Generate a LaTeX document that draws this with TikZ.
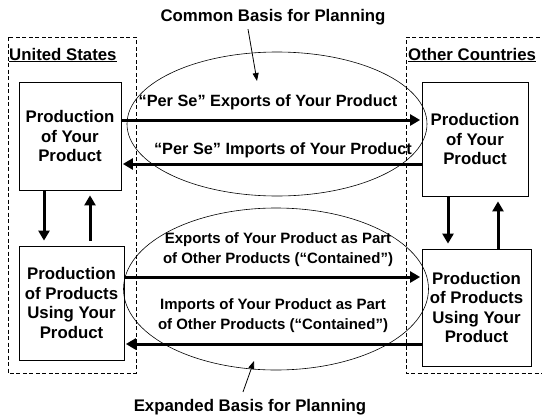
\documentclass[tikz,border=0pt]{standalone}
\usepackage{fontspec}
\setmainfont{Liberation Sans}
\usetikzlibrary{arrows.meta,calc,shapes.geometric}
\begin{document}
\begin{tikzpicture}[x=1pt,y=-1pt,
  box/.style={draw, line width=0.8pt, inner sep=0pt, align=center,
    font=\fontsize{16.8}{19.5}\bfseries\selectfont},
  flow/.style={line width=3pt, -{Triangle[length=10pt,width=11pt]}},
  pointer/.style={line width=0.8pt, -{Triangle[length=8pt,width=6pt]}},
  region/.style={draw, line width=0.6pt, dash pattern=on 4pt off 2.5pt},
  oval/.style={draw, ellipse, line width=0.6pt, inner sep=0pt},
  header/.style={font=\fontsize{16.8}{19}\bfseries\selectfont, inner sep=0pt},
  perse/.style={font=\fontsize{16.3}{19}\bfseries\selectfont, inner sep=0pt},
  contained/.style={font=\fontsize{15}{20}\bfseries\selectfont, inner sep=0pt, align=center}
]
\useasboundingbox (0,0) rectangle (542,418);

% regions
\draw[region] (8,37) rectangle (136,373);
\draw[region] (546,37) -- (406,37) -- (406,373) -- (546,373);

% ellipses
\node[oval, minimum width=300pt, minimum height=144pt] (common) at (277,124) {};
\node[oval, minimum width=305pt, minimum height=162pt] (expanded) at (276,289) {};

% headers
\node[header, anchor=west] (us) at (9,55) {\underline{United States}};
\node[header, anchor=west] (oc) at (408,55) {\underline{Other Countries}};
\node[header] (commonlbl) at (273,17) {Common Basis for Planning};
\node[header] (expandedlbl) at (250,407) {Expanded Basis for Planning};

% boxes
\node[box, minimum width=102pt, minimum height=108pt] (usprod) at (70,136)
  {Production\\of Your\\Product};
\node[box, minimum width=105pt, minimum height=114pt] (ususe) at (71.5,303)
  {Production\\of Products\\Using Your\\Product};
\node[box, minimum width=106pt, minimum height=114pt] (ocprod) at (475,139)
  {Production\\of Your\\Product};
\node[box, minimum width=109pt, minimum height=117pt] (ocuse) at (476.5,307.5)
  {Production\\of Products\\Using Your\\Product};

% horizontal flows
\draw[flow, shorten >=1.5pt] (usprod.east |- 0,120) -- (ocprod.west |- 0,120);
\draw[flow, shorten >=1.5pt] (ocprod.west |- 0,164) -- (usprod.east |- 0,164);
\draw[flow, shorten >=1.5pt] (ususe.east |- 0,277) -- (ocuse.west |- 0,277);
\draw[flow, shorten >=1.5pt] (ocuse.west |- 0,344) -- (ususe.east |- 0,344);

% flow labels
\node[perse] (l1) at (268,102) {“Per Se” Exports of Your Product};
\node[perse] (l2) at (283,150) {“Per Se” Imports of Your Product};
\node[contained] (l3) at (278,250) {Exports of Your Product as Part\\of Other Products (“Contained”)};
\node[contained] (l4) at (273,316) {Imports of Your Product as Part\\of Other Products (“Contained”)};

% vertical flows
\draw[flow, shorten >=5pt] (usprod.south -| 44,0) -- (ususe.north -| 44,0);
\draw[flow, shorten >=5pt, shorten <=5pt] (ususe.north -| 90,0) -- (usprod.south -| 90,0);
\draw[flow, shorten >=5pt] (ocprod.south -| 448,0) -- (ocuse.north -| 448,0);
\draw[flow, shorten >=5pt, shorten <=0pt] (ocuse.north -| 498,0) -- (ocprod.south -| 498,0);

% pointers
\coordinate (ctip) at (257,81);
\coordinate (etip) at (254,361);
\draw[pointer] ($(commonlbl.south)+(-25,4)$) -- (ctip);
\draw[pointer] ($(expandedlbl.north)+(-7,-7)$) -- (etip);
\end{tikzpicture}
\end{document}
